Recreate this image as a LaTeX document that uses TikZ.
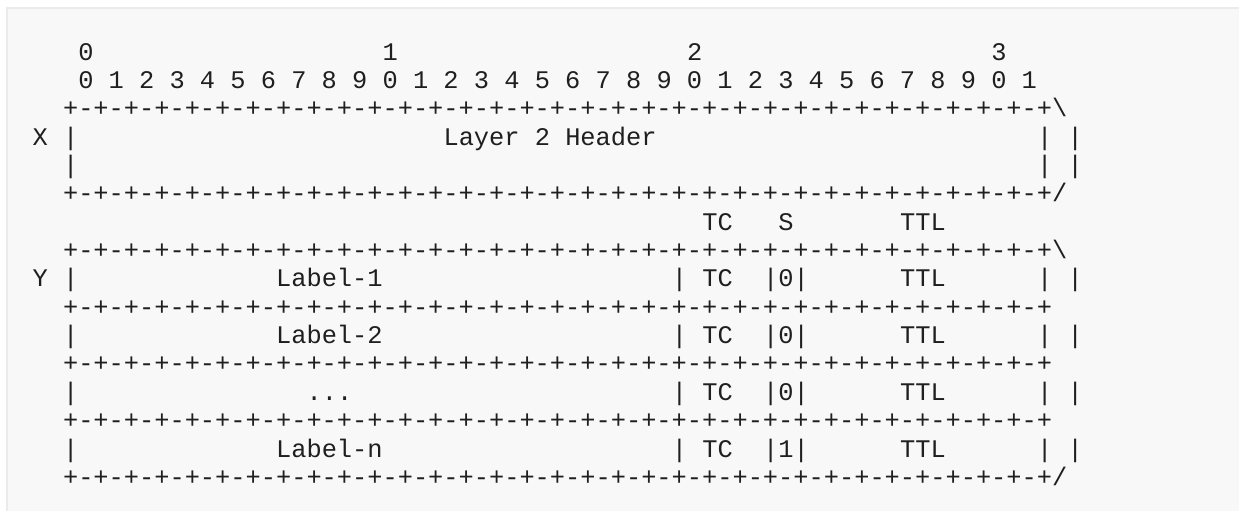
\documentclass[tikz,border=0pt]{standalone}
\usepackage{xcolor}
\usepackage{fontspec}
\usepackage{tikz}
\usetikzlibrary{positioning}

\newfontfamily\rulerfont{Liberation Mono}
\definecolor{cardgray}{HTML}{F8F8F8}
\definecolor{cardline}{HTML}{EBEBEB}
\definecolor{inkgray}{HTML}{1F1F1F}

% one 32 bit border line
\newcommand{\pluseight}{+-+-+-+-+-+-+-+-}
\newcommand{\borderline}{\pluseight\pluseight\pluseight\pluseight+}

\begin{document}
\begin{tikzpicture}[
				x=15.22pt, y=-28.35pt,
				cell/.style={
					anchor=base west, inner sep=0pt, outer sep=0pt,
					text=inkgray,
					font=\rulerfont\fontsize{25.36pt}{28.35pt}\selectfont
				},
				card/.style={
					draw=cardline, line width=1.5pt, fill=cardgray
				}
				]
				
				% page and card
				\useasboundingbox (-17.39pt,60.1pt) rectangle (1221.61pt,-450.9pt);
				\fill[white] (-17.39pt,60.1pt) rectangle (1221.61pt,-450.9pt);
				\draw[card] (-10.4pt,52.1pt) rectangle (1240pt,-470pt);
				
				% bit numbers
				\node[cell] (tensA) at (4,0) {0};
				\node[cell] (tensB) at (24,0) {1};
				\node[cell] (tensC) at (44,0) {2};
				\node[cell] (tensD) at (64,0) {3};
				\node[cell] (bits) at (4,1) {0 1 2 3 4 5 6 7 8 9 0 1 2 3 4 5 6 7 8 9 0 1 2 3 4 5 6 7 8 9 0 1};
				
				% Layer 2 header
				\node[cell] (headTop) at (3,2) {\borderline\textbackslash};
				\node[cell] (markX) at (1,3) {X};
				\node[cell] (headLeftA) at (3,3) {|};
				\node[cell] (headText) at (28,3) {Layer 2 Header};
				\node[cell] (headRightA) at (67,3) {| |};
				\node[cell] (headLeftB) at (3,4) {|};
				\node[cell] (headRightB) at (67,4) {| |};
				\node[cell] (headBottom) at (3,5) {\borderline/};
				
				% field names
				\node[cell] (nameTC) at (45,6) {TC};
				\node[cell] (nameS) at (50,6) {S};
				\node[cell] (nameTTL) at (58,6) {TTL};
				
				% Label-1
				\node[cell] (stackTop) at (3,7) {\borderline\textbackslash};
				\node[cell] (markY) at (1,8) {Y};
				\node[cell] (leftA) at (3,8) {|};
				\node[cell] (labelA) at (17,8) {Label-1};
				\node[cell] (tcA) at (43,8) {| TC};
				\node[cell] (sA) at (49,8) {|0|};
				\node[cell] (ttlA) at (58,8) {TTL};
				\node[cell] (rightA) at (67,8) {| |};
				\node[cell] (sepA) at (3,9) {\borderline};
				
				% Label-2
				\node[cell] (leftB) at (3,10) {|};
				\node[cell] (labelB) at (17,10) {Label-2};
				\node[cell] (tcB) at (43,10) {| TC};
				\node[cell] (sB) at (49,10) {|0|};
				\node[cell] (ttlB) at (58,10) {TTL};
				\node[cell] (rightB) at (67,10) {| |};
				\node[cell] (sepB) at (3,11) {\borderline};
				
				% ...
				\node[cell] (leftC) at (3,12) {|};
				\node[cell] (labelC) at (19,12) {...};
				\node[cell] (tcC) at (43,12) {| TC};
				\node[cell] (sC) at (49,12) {|0|};
				\node[cell] (ttlC) at (58,12) {TTL};
				\node[cell] (rightC) at (67,12) {| |};
				\node[cell] (sepC) at (3,13) {\borderline};
				
				% Label-n (bottom of stack)
				\node[cell] (leftD) at (3,14) {|};
				\node[cell] (labelD) at (17,14) {Label-n};
				\node[cell] (tcD) at (43,14) {| TC};
				\node[cell] (sD) at (49,14) {|1|};
				\node[cell] (ttlD) at (58,14) {TTL};
				\node[cell] (rightD) at (67,14) {| |};
				\node[cell] (stackBottom) at (3,15) {\borderline/};
			\end{tikzpicture}
\end{document}
